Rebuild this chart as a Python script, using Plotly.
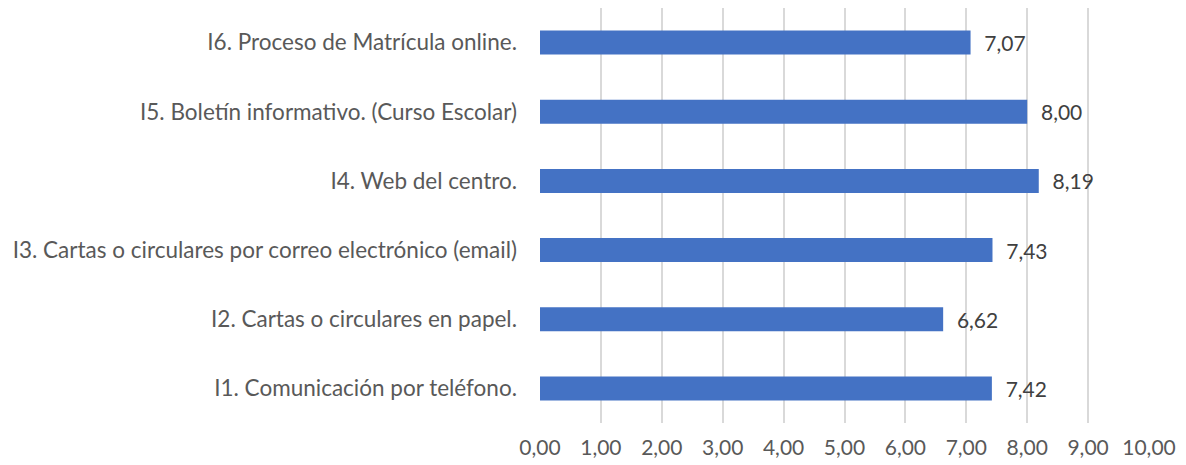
import plotly.graph_objects as go

categories = [
    "I1. Comunicación por teléfono.",
    "I2. Cartas o circulares en papel.",
    "I3. Cartas o circulares por correo electrónico (email)",
    "I4. Web del centro.",
    "I5. Boletín informativo. (Curso Escolar)",
    "I6. Proceso de Matrícula online.",
]
values = [7.42, 6.62, 7.43, 8.19, 8.00, 7.07]
x_ticks = [0, 1, 2, 3, 4, 5, 6, 7, 8, 9, 10]
x_tick_labels = [f"{t:.2f}".replace(".", ",") for t in x_ticks]
value_labels = ["\u00a0\u00a0" + f"{v:.2f}".replace(".", ",") for v in values]

FONT = "Lato"

fig = go.Figure(
    go.Bar(
        x=values,
        y=categories,
        orientation="h",
        marker=dict(color="#4472C4", line=dict(width=0)),
        text=value_labels,
        textposition="outside",
        constraintext="none",
        textfont=dict(family=FONT, size=21, color="#404040"),
        cliponaxis=False,
    )
)

fig.update_layout(
    width=1186,
    height=465,
    margin=dict(l=540, r=37, t=8, b=42, autoexpand=False),
    plot_bgcolor="white",
    paper_bgcolor="white",
    bargap=0.653,
    showlegend=False,
    font=dict(family=FONT, size=21, color="#595959"),
)
fig.update_xaxes(
    range=[0, 10],
    tickvals=x_ticks,
    ticktext=x_tick_labels,
    showgrid=True,
    gridcolor="#D9D9D9",
    gridwidth=1.5,
    zeroline=False,
    showline=False,
    ticks="",
    automargin=False,
    ticklabelstandoff=10,
    tickfont=dict(family=FONT, size=21, color="#595959"),
)
fig.update_yaxes(
    categoryorder="array",
    categoryarray=categories,
    showgrid=False,
    zeroline=False,
    showline=False,
    ticks="",
    automargin=False,
    ticklabelstandoff=22,
    tickfont=dict(family=FONT, size=22.5, color="#595959"),
)

fig.write_html(
    "out.html",
    config={"displayModeBar": False},
    post_script="document.body.style.margin='0';document.body.style.padding='0';",
)
